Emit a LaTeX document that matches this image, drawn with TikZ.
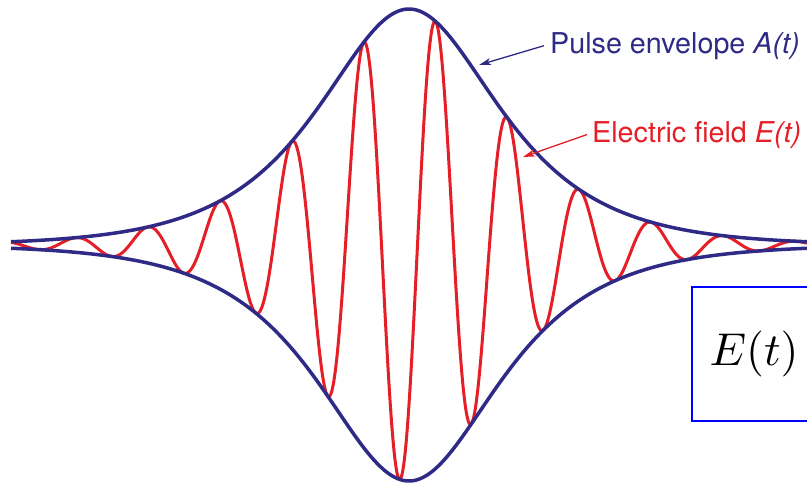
\documentclass[tikz,border=0pt]{standalone}
\usepackage{fontspec}
\setmainfont{TeX Gyre Heros}
\usepackage{graphicx}
\usetikzlibrary{arrows.meta}
\definecolor{envblue}{RGB}{46,42,134}
\definecolor{fieldred}{RGB}{230,30,38}
\definecolor{boxblue}{RGB}{0,0,255}
\begin{document}
\begin{tikzpicture}[x=1pt,y=-1pt,
  envelope/.style={draw=envblue, line width=3.5pt},
  field/.style={draw=fieldred, line width=3pt, line join=round},
  lbl/.style={font=\fontsize{28.7}{32}\selectfont, inner sep=0pt, anchor=base west},
  pointer/.style={line width=1.3pt, -{Stealth[length=12pt,width=7pt,inset=3pt]}},
  mathbox/.style={draw=boxblue, line width=2.5pt, minimum width=124pt, minimum height=134pt, inner sep=0pt}]
\clip (0,0) rectangle (807,485);
\fill[white] (0,0) rectangle (807,485);
% electric field
\draw[field] plot[domain=11:807, samples=1000]
  (\x, {245 + 236/cosh(0.0125*(\x-409))*cos(5*(\x-399.5))});
% envelope
\draw[envelope] plot[domain=11:807, samples=400]
  (\x, {245 - 236/cosh(0.0125*(\x-409))});
\draw[envelope] plot[domain=11:807, samples=400]
  (\x, {245 + 236/cosh(0.0125*(\x-409))});
% labels
\node[lbl, text=envblue] (envlabel) at (550,53) {Pulse envelope \textit{A(t)}};
\node[lbl, text=fieldred] (fieldlabel) at (592,142) {Electric field \textit{E(t)}};
\coordinate (envtip) at (479,65);
\coordinate (fieldtip) at (523,157);
\draw[pointer, envblue] ([xshift=-6pt]envlabel.west) -- (envtip);
\draw[pointer, fieldred] ([xshift=-5pt]fieldlabel.west) -- (fieldtip);
% box
\node[mathbox] (ebox) at (754,354) {\scalebox{4.6}{$E(t)$}};
\end{tikzpicture}
\end{document}
